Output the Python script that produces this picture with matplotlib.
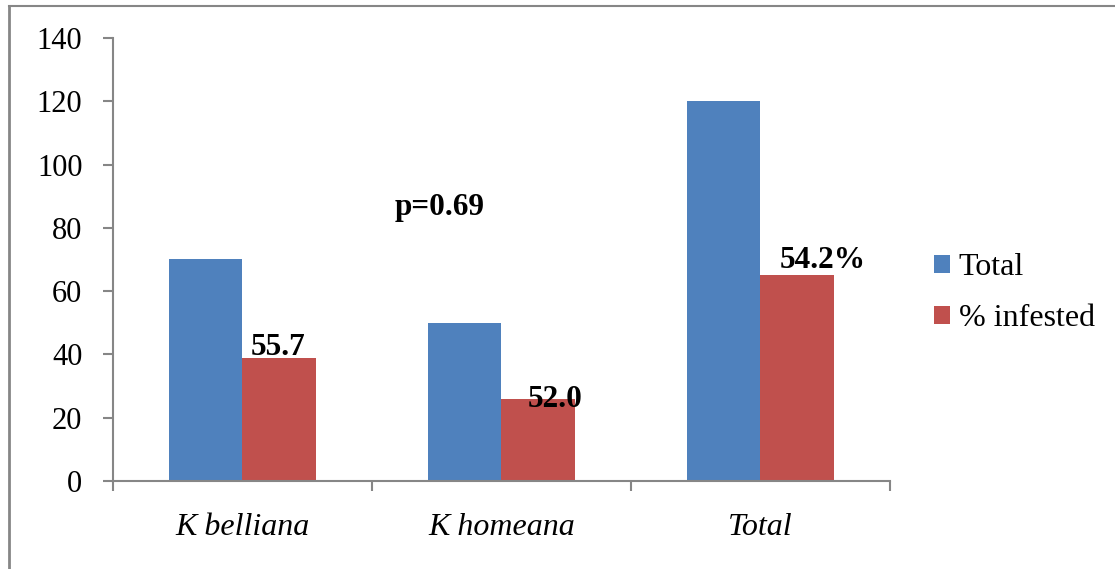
import numpy as np
import matplotlib.pyplot as plt
from matplotlib.lines import Line2D

species = ['K belliana', 'K homeana', 'Total']
totals = [70, 50, 120]
pct_infested = [55.7, 52.0, 54.2]
pct_labels = ['55.7', '52.0', '54.2%']
p_text = 'p=0.69'

# infested counts follow from the percentages
infested = [t * p / 100 for t, p in zip(totals, pct_infested)]

plt.rcParams['font.family'] = ['Liberation Serif', 'DejaVu Serif']
blue = '#4F81BD'
red = '#C0504D'
gray = '#868686'

fig = plt.figure(figsize=(11.15, 5.69), dpi=100)
ax = fig.add_axes([0.1013, 0.1547, 0.6969, 0.7785])

x = np.arange(len(species))
w = 0.284
ax.bar(x - w / 2, totals, w, color=blue, label='Total')
bars = ax.bar(x + w / 2, infested, w, color=red, label='% infested')

# value labels, nudged the way they sit on the chart (pixels)
offsets = [(-1, -4), (17, -15), (25, 0)]
for b, lab, (dx, dy) in zip(bars, pct_labels, offsets):
    ax.annotate(lab, (b.get_x() + b.get_width() / 2, b.get_height()),
                xytext=(dx * 0.72, dy * 0.72), textcoords='offset points',
                ha='center', va='bottom', fontsize=22.5, fontweight='bold')

ax.text(0.76, 84.0, p_text, ha='center', va='baseline', fontsize=22.5, fontweight='bold')

ax.set_xlim(-0.5, 2.5)
ax.set_ylim(0, 140)
ax.set_yticks(range(0, 141, 20))
ax.set_xticks([-0.5, 0.5, 1.5, 2.5])
ax.set_xticklabels([])
ax.set_xticks(x, minor=True)
ax.set_xticklabels(species, minor=True, fontstyle='italic', fontsize=23)
ax.tick_params(axis='x', which='major', length=7, width=1.5, color=gray)
ax.tick_params(axis='x', which='minor', length=0, pad=23)
ax.tick_params(axis='y', length=7, width=1.5, color=gray, labelsize=22, pad=15)

for s in ['top', 'right']:
    ax.spines[s].set_visible(False)
for s in ['left', 'bottom']:
    ax.spines[s].set_color(gray)
    ax.spines[s].set_linewidth(1.5)

fig.legend(loc='upper left', bbox_to_anchor=(0.826, 0.577), frameon=False,
           fontsize=23, handlelength=0.52, handleheight=0.52, handletextpad=0.26,
           labelspacing=0.68, borderaxespad=0)

# outer frame: top and left edges only
fig.add_artist(Line2D([0.0081, 1], [0.9886, 0.9886], color=gray, lw=1.5))
fig.add_artist(Line2D([0.0081, 0.0081], [0, 0.9886], color=gray, lw=2))

fig.savefig('out.png', dpi=100)
